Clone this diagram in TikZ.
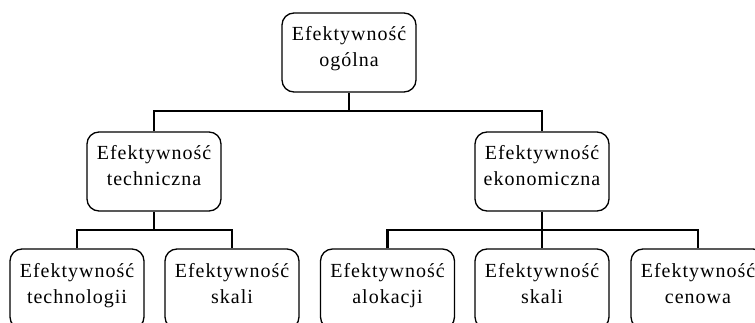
\documentclass[tikz,border=0pt]{standalone}
\usepackage{fontspec}
\setmainfont{Liberation Serif}
\newfontfamily\boxfont[LetterSpace=5]{Liberation Serif}
\newcommand{\bxtext}[2]{\raisebox{4pt}[\height][\depth]{\begin{tabular}{@{}c@{}}#1\\#2\end{tabular}}}
\begin{document}
\begin{tikzpicture}[x=1pt,y=-1pt,
  box/.style={draw=black,line width=1.3pt,rounded corners=12pt,minimum width=134pt,minimum height=79pt,inner sep=0pt,font=\boxfont\fontsize{20}{26}\selectfont},
  conn/.style={draw=black,line width=2.4pt}]
\useasboundingbox (0,0) rectangle (755,323);
\node[box] (top) at (349,52.5) {\bxtext{Efektywność}{ogólna}};
\node[box] (tech) at (154,171.5) {\bxtext{Efektywność}{techniczna}};
\node[box] (eko) at (542,171.5) {\bxtext{Efektywność}{ekonomiczna}};
\node[box,minimum height=80pt] (tl) at (77,289) {\bxtext{Efektywność}{technologii}};
\node[box,minimum height=80pt] (ts) at (232,289) {\bxtext{Efektywność}{skali}};
\node[box,minimum height=80pt] (ea) at (387.5,289) {\bxtext{Efektywność}{alokacji}};
\node[box,minimum height=80pt] (es) at (542,289) {\bxtext{Efektywność}{skali}};
\node[box,minimum height=80pt] (ec) at (698,289) {\bxtext{Efektywność}{cenowa}};
\coordinate (j1) at (349,111);
\coordinate (j2) at (154,230);
\coordinate (j3) at (542,230);
\draw[conn] (top.south) -- (j1);
\draw[conn] (tech.north) |- (j1) -| (eko.north);
\draw[conn] (tech.south) -- (j2);
\draw[conn] (tl.north) |- (j2) -| (ts.north);
\draw[conn] (eko.south) -- (es.north);
\draw[conn] (ea.north) |- (j3) -| (ec.north);
\end{tikzpicture}
\end{document}
